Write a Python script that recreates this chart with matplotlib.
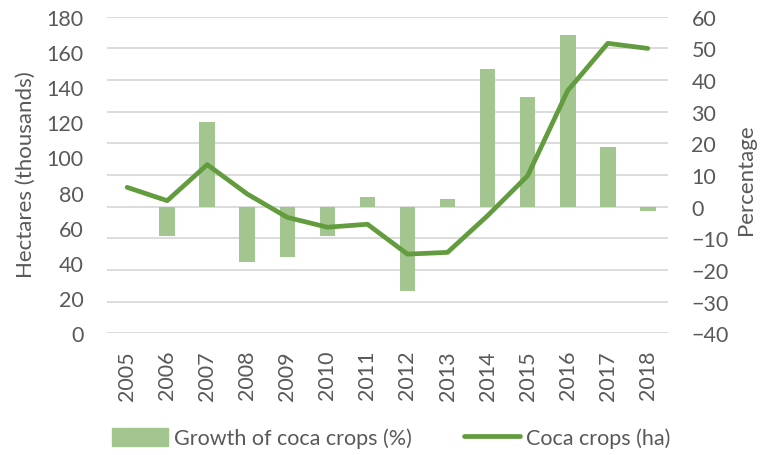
import numpy as np
import matplotlib
matplotlib.use("Agg")
import matplotlib.pyplot as plt
from matplotlib.patches import Patch
from matplotlib.lines import Line2D

plt.rcParams['font.family'] = ['Lato', 'DejaVu Sans']

# data
years = ['2005', '2006', '2007', '2008', '2009', '2010', '2011',
         '2012', '2013', '2014', '2015', '2016', '2017', '2018']
coca_ha = [83, 75.4, 95.9, 79.2, 65.9, 60.3, 62, 45, 46, 66.9, 89.6, 138, 164.9, 162]
growth_pct = [np.nan, -9.3, 26.7, -17.6, -15.9, -9.2, 2.9, -26.8, 2.3, 43.4, 34.8, 54.4, 18.7, -1.3]

bar_color = '#A3C590'
line_color = '#629C3E'
text_color = '#595959'
grid_color = '#D9D9D9'

fig = plt.figure(figsize=(7.65, 4.56), dpi=100)
ax = fig.add_axes([0.140, 0.267, 0.733, 0.694])
ax2 = ax.twinx()

x = np.arange(len(years))

# bars on the right axis, line on the left axis
ax2.bar(x, growth_pct, width=0.39, color=bar_color, zorder=2)
ax.set_zorder(ax2.get_zorder() + 1)
ax.patch.set_visible(False)
ax.plot(x, coca_ha, color=line_color, lw=3.4, solid_capstyle='round', solid_joinstyle='round', zorder=3)

ax.set_ylim(0, 180)
ax.set_yticks(np.arange(0, 181, 20))
ax2.set_ylim(-40, 60)
ax2.set_yticks(np.arange(-40, 61, 10))
ax.set_xlim(-0.5, len(years) - 0.5)
ax.set_xticks(x)
ax.set_xticklabels(years, rotation=90)

for a in (ax, ax2):
    for s in a.spines.values():
        s.set_visible(False)
    a.tick_params(length=0, colors=text_color, labelsize=15.5)

ax.tick_params(axis='y', pad=17)
ax2.tick_params(axis='y', pad=17)
ax.tick_params(axis='x', pad=12)

ax2.grid(axis='y', color=grid_color, lw=1.3, zorder=0)
ax2.set_axisbelow(True)

fig.text(26 / 765, 1 - 175 / 456, 'Hectares (thousands)', rotation=90, ha='center', va='center',
         color=text_color, fontsize=16)
fig.text(746 / 765, 1 - 180 / 456, 'Percentage', rotation=90, ha='center', va='center',
         color=text_color, fontsize=16)

handles = [Patch(color=bar_color), Line2D([0], [0], color=line_color, lw=3.4, solid_capstyle='round')]
fig.legend(handles, ['Growth of coca crops (%)', 'Coca crops (ha)'],
           loc='center', bbox_to_anchor=(391 / 765, 1 - 439 / 456), ncol=2, frameon=False,
           fontsize=15.5, labelcolor=text_color, handlelength=2.6, handleheight=0.9,
           handletextpad=0.3, columnspacing=2.4, borderpad=0)

fig.savefig('out.png', dpi=100)
